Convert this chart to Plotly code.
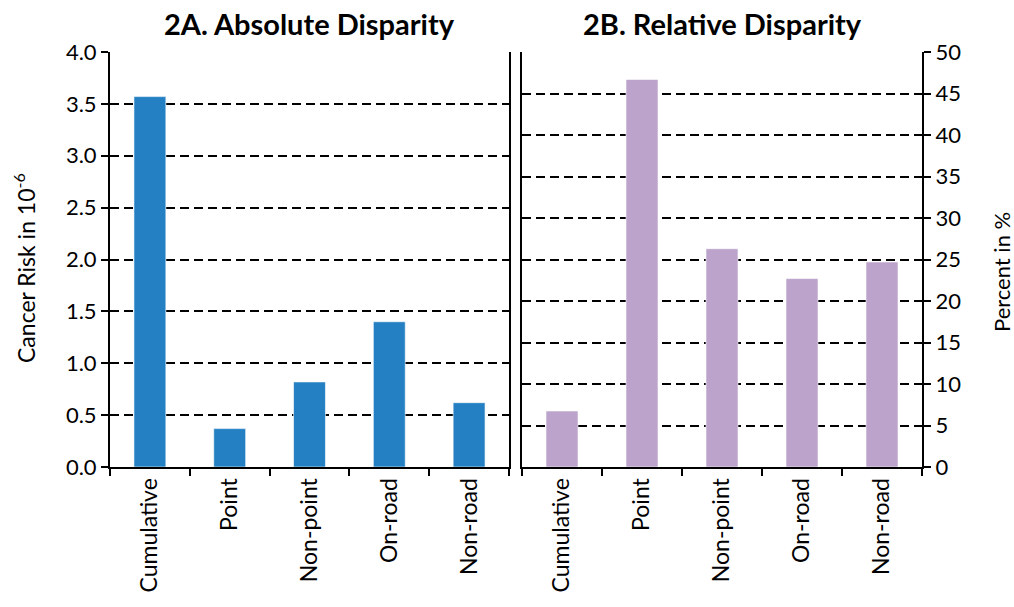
import plotly.graph_objects as go

categories = ["Cumulative", "Point", "Non-point", "On-road", "Non-road"]
absolute_risk = [3.57, 0.37, 0.82, 1.40, 0.62]
relative_pct = [6.75, 46.7, 26.3, 22.7, 24.7]

FONT = "Lato"
W, H = 1014, 607


def px_x(x):
    return x / W


def px_y(y):
    return (H - y) / H


fig = go.Figure()
fig.add_trace(go.Bar(x=categories, y=absolute_risk, xaxis="x", yaxis="y",
                     marker=dict(color="#2480C2", line=dict(color="rgba(255,255,255,0.6)", width=1)),
                     showlegend=False))
fig.add_trace(go.Bar(x=categories, y=relative_pct, xaxis="x2", yaxis="y2",
                     marker=dict(color="#BBA3CB", line=dict(color="rgba(255,255,255,0.6)", width=1)),
                     showlegend=False))

xd1 = [px_x(110), px_x(509)]
xd2 = [px_x(522), px_x(922)]
yd = [px_y(467), px_y(52)]

common_x = dict(type="category", showline=True, linecolor="black", linewidth=2,
                ticks="outside", tickson="boundaries", ticklen=7, tickwidth=1.5,
                tickcolor="black", tickangle=-90, showgrid=False, automargin=False,
                tickfont=dict(family=FONT, size=23, color="black"))
common_y = dict(showline=True, linecolor="black", linewidth=2, mirror=True,
                ticks="outside", ticklen=7, tickwidth=1.5, tickcolor="black",
                showgrid=True, gridcolor="black", gridwidth=1.7, griddash="9px,5px",
                zeroline=False, automargin=False,
                tickfont=dict(family=FONT, size=22, color="black"))

fig.update_layout(
    width=W, height=H,
    margin=dict(l=0, r=0, t=0, b=0, autoexpand=False),
    paper_bgcolor="white", plot_bgcolor="white",
    bargap=0.6,
    xaxis=dict(domain=xd1, anchor="y", **common_x),
    xaxis2=dict(domain=xd2, anchor="y2", **common_x),
    yaxis=dict(domain=yd, anchor="x", range=[0, 4.0], tickvals=[0, 0.5, 1, 1.5, 2, 2.5, 3, 3.5, 4],
               tickformat=".1f", **common_y),
    yaxis2=dict(domain=yd, anchor="x2", side="right", range=[0, 50], dtick=5, **common_y),
    annotations=[
        dict(text="<b>2A. Absolute Disparity</b>", x=(xd1[0] + xd1[1]) / 2, y=px_y(23),
             xref="paper", yref="paper", showarrow=False, xanchor="center", yanchor="middle",
             font=dict(family=FONT, size=29, color="black")),
        dict(text="<b>2B. Relative Disparity</b>", x=(xd2[0] + xd2[1]) / 2, y=px_y(23),
             xref="paper", yref="paper", showarrow=False, xanchor="center", yanchor="middle",
             font=dict(family=FONT, size=29, color="black")),
        dict(text="Cancer Risk in 10<sup>-6</sup>", x=px_x(24), y=px_y(268), textangle=-90,
             xref="paper", yref="paper", showarrow=False, xanchor="center", yanchor="middle",
             font=dict(family=FONT, size=23, color="black")),
        dict(text="Percent in %", x=px_x(1001), y=px_y(272), textangle=-90,
             xref="paper", yref="paper", showarrow=False, xanchor="center", yanchor="middle",
             font=dict(family=FONT, size=22, color="black")),
    ],
)

fig.write_html(
    "out.html",
    config={"displayModeBar": False},
    post_script="document.body.style.margin='0px';document.body.style.overflow='hidden';",
)
